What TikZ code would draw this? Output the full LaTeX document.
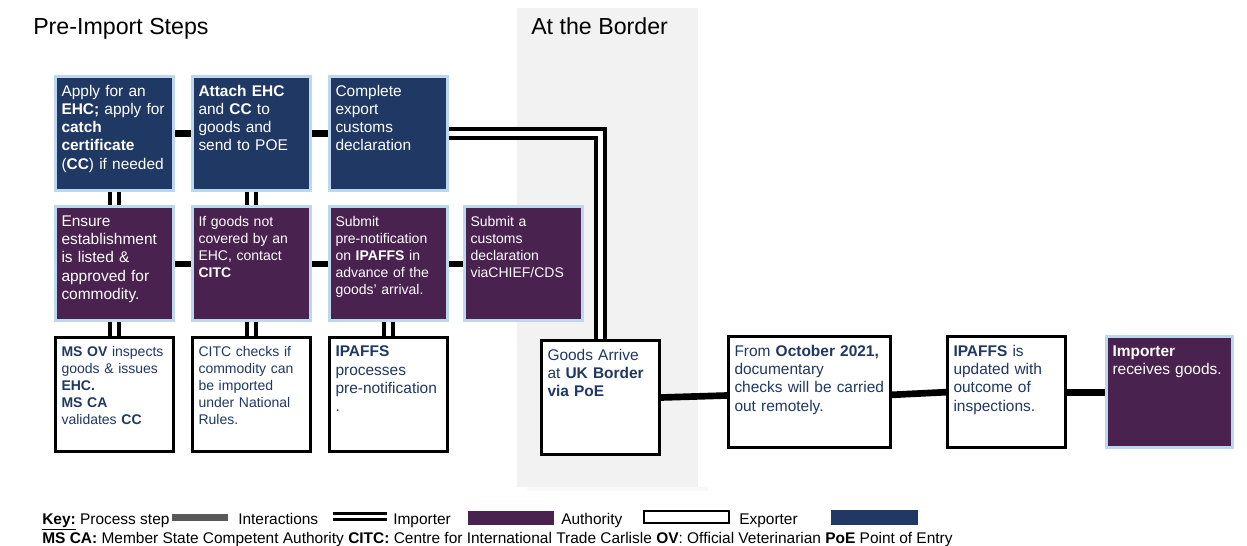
\documentclass[tikz,border=0pt]{standalone}
\usepackage{fontspec}
\setmainfont{Liberation Sans}
\usetikzlibrary{positioning}
\definecolor{Navy}{HTML}{1F3864}
\definecolor{Plum}{HTML}{4A2250}
\definecolor{Edge}{HTML}{BDD7EE}
\definecolor{Shade}{HTML}{F2F2F2}
\definecolor{Ink}{HTML}{1F3864}
\definecolor{KeyGray}{HTML}{595959}
\newcommand\boxfont{\fontsize{11.6pt}{13.7pt}\selectfont}
\newcommand\boxfontsm{\fontsize{10.5pt}{12.75pt}\selectfont}
\newcommand\titlefont{\fontsize{17.4pt}{20pt}\selectfont}
\tikzset{
  card/.style={
    line width=2.25pt, inner xsep=4.5pt, inner ysep=6.4pt,
    text width=79.5pt, align=left, text height=8.3pt, text depth=64.4pt,
    font=\boxfont
  },
  exporter/.style={card, fill=Navy, draw=Edge, text=white},
  importer/.style={card, fill=Plum, draw=Edge, text=white},
  authority/.style={card, fill=white, draw=black, text=Ink},
  procline/.style={line width=5pt, draw=black},
  interaction/.style={line width=3pt, double=white, double distance=3.75pt, draw=black},
  heading/.style={anchor=base west, inner sep=0pt, font=\titlefont},
  keytext/.style={anchor=base west, inner sep=0pt, font=\boxfont},
  swatch/.style={inner sep=0pt, minimum width=64.5pt, minimum height=10.5pt}
}

\begin{document}
\begin{tikzpicture}[x=0.75pt, y=-0.75pt, node distance=10pt and 12pt]
  \useasboundingbox (0,0) rectangle (1247,546);
  % border band
  \fill[Shade] (517,8) rectangle (698,487);
  \fill[Shade!50] (527,487) rectangle (708,491);
  \node[heading] (pre) at (33,34) {Pre-Import Steps};
  \node[heading] (atborder) at (531,34) {At the Border};

  % exporter row
  \node[exporter, anchor=north west] (ehc) at (54,75)
    {Apply for an\\\textbf{EHC;} apply for\\\textbf{catch}\\\textbf{certificate}\\(\textbf{CC}) if needed};
  \node[exporter, right=of ehc] (attach)
    {\textbf{Attach EHC}\\and \textbf{CC} to\\goods and\\send to POE};
  \node[exporter, right=of attach] (customs)
    {Complete\\export\\customs\\declaration};

  % importer row
  \node[importer, below=of ehc] (ensure)
    {Ensure\\establishment\\is listed \&\\approved for\\commodity.};
  \node[importer, below=of attach, font=\boxfontsm] (contact)
    {If goods not\\covered by an\\EHC, contact\\\textbf{CITC}};
  \node[importer, below=of customs, font=\boxfontsm] (prenote)
    {Submit\\pre-notification\\on \textbf{IPAFFS} in\\advance of the\\goods' arrival.};
  \node[importer, right=10.5pt of prenote, font=\boxfontsm] (chief)
    {Submit a\\customs\\declaration\\viaCHIEF/CDS};

  % authority row
  \node[authority, below=of ensure, font=\boxfontsm] (msov)
    {\textbf{MS OV} inspects\\goods \& issues\\\textbf{EHC.}\\\textbf{MS CA}\\validates \textbf{CC}};
  \node[authority, below=of contact, font=\boxfontsm] (citc)
    {CITC checks if\\commodity can\\be imported\\under National\\Rules.};
  \node[authority, below=of prenote] (process)
    {\textbf{IPAFFS}\\processes\\pre-notification\\.};

  % at the border and after
  \node[authority, anchor=north west] (goods) at (540,339)
    {Goods Arrive\\at \textbf{UK Border}\\\textbf{via PoE}};
  \node[authority, right=49.5pt of goods, yshift=4pt, text width=112.5pt, text depth=62.15pt] (october)
    {From \textbf{October 2021,}\\documentary\\checks will be carried\\out remotely.};
  \node[authority, right=40.5pt of october, text depth=62.15pt] (outcome)
    {\textbf{IPAFFS} is\\updated with\\outcome of\\inspections.};
  \node[importer, right=28.5pt of outcome, text width=85.5pt, text depth=62.15pt] (receive)
    {\textbf{Importer}\\receives goods.};

  % process steps
  \draw[procline] (ehc) -- (attach);
  \draw[procline] (attach) -- (customs);
  \draw[procline] (ensure) -- (contact);
  \draw[procline] (contact) -- (prenote);
  \draw[procline] (prenote) -- (chief);
  \draw[procline] (goods.east) -- ([yshift=1.5pt]october.west |- goods.east);
  \draw[procline] ([yshift=-2pt]october.east) -- (outcome.west);
  \draw[procline] (outcome.east) -- (receive.west);

  % interactions
  \draw[interaction] (ehc) -- (ensure);
  \draw[interaction] (attach) -- (contact);
  \draw[interaction] (ensure) -- (msov);
  \draw[interaction] (contact) -- (citc);
  \draw[interaction] (prenote) -- (process);
  \draw[interaction] (customs.east) -| (goods.north);

  % key
  \node[keytext] (keyhead) at (42,524) {\underline{\textbf{Key:}} Process step};
  \node[swatch, fill=KeyGray, minimum width=42pt, minimum height=5pt] (kstep) at (200,517.5) {};
  \node[keytext] (kinter) at (238,524) {Interactions};
  \coordinate (kdl) at (333,516);
  \coordinate (kdr) at (387,516);
  \draw[interaction, line width=2.25pt, double distance=2.25pt] (kdl) -- (kdr);
  \node[keytext] (kimporter) at (393,524) {Importer};
  \node[swatch, fill=Plum] (kplum) at (511,518) {};
  \node[keytext] (kauthority) at (561,524) {Authority};
  \node[swatch, draw=black, line width=1.5pt, minimum width=63.75pt, minimum height=9pt] (kwhite) at (686.5,517) {};
  \node[keytext] (kexporter) at (739,524) {Exporter};
  \node[swatch, fill=Navy, minimum width=65.25pt, minimum height=11.25pt] (knavy) at (874.5,517.5) {};
  \node[keytext] (keydefs) at (42,543)
    {\textbf{MS CA:} Member State Competent Authority \textbf{CITC:} Centre for International Trade Carlisle \textbf{OV}: Official Veterinarian \textbf{PoE} Point of Entry};
\end{tikzpicture}
\end{document}
